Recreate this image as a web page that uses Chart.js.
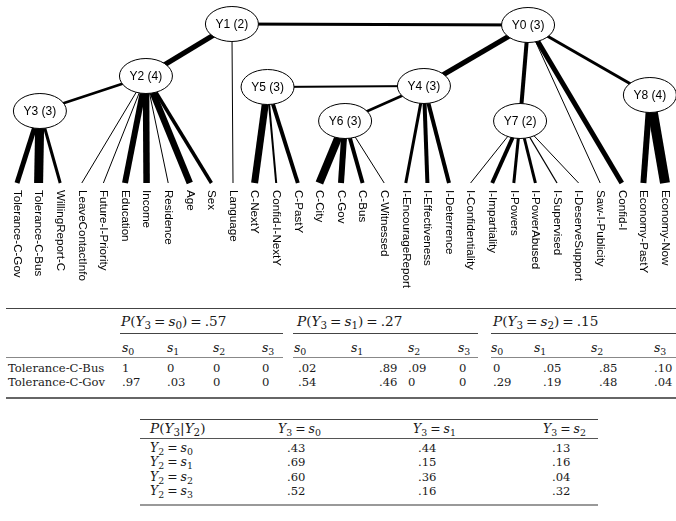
<!DOCTYPE html>
<html>
<head>
<meta charset="utf-8">
<script src="https://cdn.jsdelivr.net/npm/chart.js@4.4.1/dist/chart.umd.min.js"></script>
<style>
  html, body { margin: 0; padding: 0; background: #fff; }
  #wrap { position: relative; width: 676px; height: 521px; overflow: hidden; background: #fff; }
  #tree { position: absolute; left: 0; top: 0; }
  .t { position: absolute; font-family: "DejaVu Serif", serif; font-size: 11.6px; color: #1a1a1a; line-height: 14px; white-space: nowrap; }
  .t.m { font-size: 12.4px; }
  .t.big { font-size: 13.6px; }
  .t i { font-style: italic; }
  .t sub { font-size: 0.76em; vertical-align: -0.3em; line-height: 0; }
  .eq { padding: 0 3px; }
  .rule { position: absolute; background: #555; }
</style>
</head>
<body>
<div id="wrap">
  <canvas id="tree" width="676" height="300"></canvas>
</div>
<script>
// ---------------- Tree data ----------------
const nodeNames = ['Y0 (3)', 'Y1 (2)', 'Y2 (4)', 'Y3 (3)', 'Y4 (3)', 'Y5 (3)', 'Y6 (3)', 'Y7 (2)', 'Y8 (4)'];
const nodeSlot  = [23.66, 9.95, 5.97, 1.06, 18.84, 11.6, 15.19, 23.29, 29.3];
const nodeDepth = [25, 24, 76, 111, 86, 87, 121, 121, 95];

const leafNames = ['Tolerance-C-Gov', 'Tolerance-C-Bus', 'WillingReport-C', 'LeaveContactInfo',
  'Future-I-Priority', 'Education', 'Income', 'Residence', 'Age', 'Sex', 'Language',
  'C-NextY', 'Confid-I-NextY', 'C-PastY', 'C-City', 'C-Gov', 'C-Bus', 'C-Witnessed',
  'I-EncourageReport', 'I-Effectiveness', 'I-Deterrence', 'I-Confidentiality',
  'I-Impartiality', 'I-Powers', 'I-PowerAbused', 'I-Supervised', 'I-DeserveSupport',
  'Saw-I-Publicity', 'Confid-I', 'Economy-PastY', 'Economy-Now'];
const leafParent = [3, 3, 3, 2, 2, 2, 2, 2, 2, 2, 1, 5, 5, 5, 6, 6, 6, 6, 4, 4, 4, 7, 7, 7, 7, 7, 7, 0, 0, 8, 8];
const leafWeight = [5, 9, 3, 1, 1, 6, 6.5, 1, 6.5, 3.5, 1, 7, 2, 4, 8, 6, 4, 1, 3, 4, 4, 1, 4, 3, 3, 1.3, 1, 1, 5, 6, 10];
const leafDepth = 183;
const labelDepth = 190;

const linkFrom   = [1, 1, 2, 5, 4, 0, 0, 0];
const linkTo     = [2, 0, 3, 4, 6, 4, 7, 8];
const linkWeight = [5, 3, 2.5, 2, 2.5, 5, 4, 3];

// ---------------- Table data ----------------
const t1Groups = ['.57', '.27', '.15'];
const t1States = ['0', '1', '2'];
const t1SubCols = ['0', '1', '2', '3'];
const t1RowNames = ['Tolerance-C-Bus', 'Tolerance-C-Gov'];
const t1Bus = [['1', '0', '0', '0'], ['.02', '.89', '.09', '0'], ['0', '.05', '.85', '.10']];
const t1Gov = [['.97', '.03', '0', '0'], ['.54', '.46', '0', '0'], ['.29', '.19', '.48', '.04']];

const t2Cols = ['0', '1', '2'];
const t2Rows = ['0', '1', '2', '3'];
const t2Col0 = ['.43', '.69', '.60', '.52'];
const t2Col1 = ['.44', '.15', '.36', '.16'];
const t2Col2 = ['.13', '.16', '.04', '.32'];

// ---------------- Chart ----------------
const datasets = [];
leafNames.forEach((name, i) => {
  const p = leafParent[i];
  datasets.push({
    data: [{x: nodeSlot[p], y: nodeDepth[p]}, {x: i, y: leafDepth}],
    borderWidth: leafWeight[i]
  });
});
linkFrom.forEach((a, k) => {
  const b = linkTo[k];
  datasets.push({
    data: [{x: nodeSlot[a], y: nodeDepth[a]}, {x: nodeSlot[b], y: nodeDepth[b]}],
    borderWidth: linkWeight[k]
  });
});
datasets.forEach(d => {
  d.showLine = true; d.borderColor = '#000'; d.pointRadius = 0; d.borderCapStyle = 'butt';
  d.backgroundColor = '#000';
});

const treePlugin = {
  id: 'treeDecor',
  afterDatasetsDraw(chart) {
    const ctx = chart.ctx, xs = chart.scales.x, ys = chart.scales.y;
    ctx.save();
    nodeNames.forEach((n, i) => {
      const px = xs.getPixelForValue(nodeSlot[i]);
      const py = ys.getPixelForValue(nodeDepth[i]);
      ctx.beginPath();
      ctx.ellipse(px, py, 26.5, 17.5, 0, 0, Math.PI * 2);
      ctx.fillStyle = '#fff';
      ctx.fill();
      ctx.lineWidth = 1;
      ctx.strokeStyle = '#000';
      ctx.stroke();
      ctx.fillStyle = '#000';
      ctx.font = '12px "Liberation Sans", Arial, sans-serif';
      ctx.textAlign = 'center';
      ctx.textBaseline = 'middle';
      ctx.fillText(n, px, py + 1);
    });
    ctx.font = '11.6px "Liberation Sans", Arial, sans-serif';
    ctx.textAlign = 'left';
    ctx.textBaseline = 'middle';
    ctx.fillStyle = '#000';
    leafNames.forEach((n, i) => {
      const px = xs.getPixelForValue(i);
      const py = ys.getPixelForValue(labelDepth);
      ctx.save();
      ctx.translate(px, py);
      ctx.rotate(Math.PI / 2);
      ctx.fillText(n, 0, 0);
      ctx.restore();
    });
    ctx.restore();
  }
};

new Chart(document.getElementById('tree'), {
  type: 'scatter',
  data: { datasets },
  options: {
    responsive: false,
    animation: false,
    layout: { padding: 0 },
    plugins: { legend: { display: false }, tooltip: { enabled: false } },
    scales: {
      x: { type: 'linear', display: false, min: -17 / 21.6, max: (676 - 17) / 21.6 },
      y: { type: 'linear', display: false, min: 0, max: 300, reverse: true }
    }
  },
  plugins: [treePlugin]
});

// ---------------- Tables (HTML) ----------------
const wrap = document.getElementById('wrap');
function txt(html, x, cy, cls) {
  const d = document.createElement('div');
  d.className = 't' + (cls ? ' ' + cls : '');
  d.innerHTML = html;
  d.style.left = x + 'px';
  d.style.top = (cy - 7) + 'px';
  wrap.appendChild(d);
}
function rule(x1, x2, y, h, color) {
  const d = document.createElement('div');
  d.className = 'rule';
  d.style.left = x1 + 'px';
  d.style.width = (x2 - x1) + 'px';
  d.style.top = y + 'px';
  d.style.height = h + 'px';
  d.style.background = color;
  wrap.appendChild(d);
}
const S = s => '<i>s</i><sub>' + s + '</sub>';
const Y = s => '<i>Y</i><sub>' + s + '</sub>';
const EQ = '<span class="eq">=</span>';

// Table 1 layout
const t1GroupX = [121, 297, 493];
const t1GroupRule = [[120, 283], [293, 478], [491, 676]];
const t1HeadX = [[122, 167, 213, 262], [294, 351, 408, 458], [491, 534, 591, 654]];
const t1ValX  = [[122, 167, 213, 262], [298, 379, 408, 459], [493, 543, 599, 654]];
rule(6, 676, 308, 1, '#444');
t1Groups.forEach((g, k) => {
  txt('<i>P</i>(' + Y('3') + EQ + S(t1States[k]) + ')' + EQ + g, t1GroupX[k], 321, 'big');
  rule(t1GroupRule[k][0], t1GroupRule[k][1], 333, 1, '#444');
  t1SubCols.forEach((c, j) => txt(S(c), t1HeadX[k][j], 348, 'm'));
  rule(k === 0 ? 6 : t1GroupRule[k][0], t1GroupRule[k][1], 357, 1, '#888');
  t1Bus[k].forEach((v, j) => txt(v, t1ValX[k][j], 368));
  t1Gov[k].forEach((v, j) => txt(v, t1ValX[k][j], 382));
});
txt(t1RowNames[0], 8, 368);
txt(t1RowNames[1], 8, 382);
rule(6, 676, 397, 1.5, '#666');

// Table 2 layout
const t2HeadX = [278, 413, 543];
const t2ValX = [287, 418, 552];
const t2RowY = [448, 462, 477, 491];
rule(140, 598, 419, 1, '#444');
txt('<i>P</i>(' + Y('3') + '|' + Y('2') + ')', 150, 428, 'big');
t2Cols.forEach((c, j) => txt(Y('3') + EQ + S(c), t2HeadX[j], 429, 'm'));
rule(140, 598, 438, 1, '#555');
t2Rows.forEach((r, i) => {
  txt(Y('2') + EQ + S(r), 150, t2RowY[i], 'm');
  txt(t2Col0[i], t2ValX[0], t2RowY[i]);
  txt(t2Col1[i], t2ValX[1], t2RowY[i]);
  txt(t2Col2[i], t2ValX[2], t2RowY[i]);
});
rule(140, 598, 504, 2, '#999');
</script>
</body>
</html>
